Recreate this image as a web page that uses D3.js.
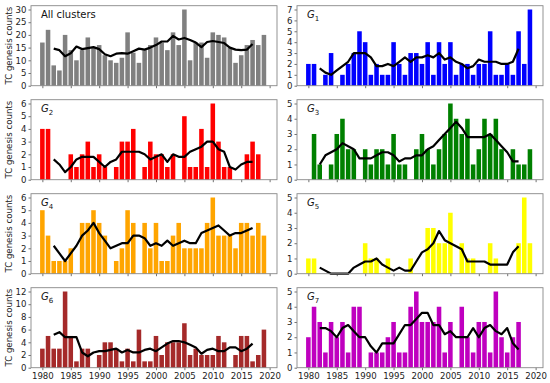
<!DOCTYPE html>
<html>
<head>
<meta charset="utf-8">
<script src="https://cdn.jsdelivr.net/npm/d3@7"></script>
<style>
  body { margin: 0; background: #fff; }
  text { font-family: "DejaVu Sans", sans-serif; }
</style>
</head>
<body>
<div id="chart"></div>
<script>
// years of the bars and of the 5-year running mean
const years = [1980,1981,1982,1983,1984,1985,1986,1987,1988,1989,1990,1991,1992,1993,1994,1995,1996,1997,1998,1999,
  2000,2001,2002,2003,2004,2005,2006,2007,2008,2009,2010,2011,2012,2013,2014,2015,2016,2017,2018,2019];
const meanYears = [1982,1983,1984,1985,1986,1987,1988,1989,1990,1991,1992,1993,1994,1995,1996,1997,1998,1999,
  2000,2001,2002,2003,2004,2005,2006,2007,2008,2009,2010,2011,2012,2013,2014,2015,2016,2017];
const xTicks = [1980, 1985, 1990, 1995, 2000, 2005, 2010, 2015, 2020];

// yearly TC genesis counts
const allCounts = [17,22,8,6,20,14,10,14,19,15,16,12,10,9,11,21,13,9,14,16,19,17,14,21,16,30,10,17,17,11,21,20,19,15,9,12,16,18,16,20];
const g1Counts = [2,2,0,1,3,0,1,2,3,5,4,1,2,1,1,4,2,1,3,3,2,4,1,4,2,4,1,2,2,1,2,2,5,1,1,2,1,5,2,7];
const g2Counts = [4,4,0,0,0,2,1,2,3,1,2,1,0,1,3,3,4,0,1,3,2,2,1,2,0,5,1,1,4,1,6,3,1,1,0,0,2,3,2,0];
const g3Counts = [0,3,1,0,1,3,4,2,2,0,2,1,2,2,1,3,1,1,0,2,3,2,1,2,3,5,4,3,4,1,2,4,3,4,2,0,2,1,1,2];
const g4Counts = [5,3,1,1,1,2,0,4,4,5,4,3,0,1,2,5,4,0,4,2,4,1,1,3,4,2,2,2,2,4,6,3,3,3,2,4,4,3,4,3];
const g5Counts = [1,1,0,0,0,0,0,0,0,0,2,1,1,0,1,0,0,0,1,0,0,3,3,2,2,4,0,2,1,1,0,0,2,1,0,0,0,2,5,2];
const g6Counts = [3,5,3,3,12,5,1,3,3,0,2,4,4,3,1,3,1,6,1,1,5,2,4,4,4,7,2,3,2,2,2,5,4,0,2,5,5,1,2,6];
const g7Counts = [2,4,3,1,3,2,3,1,4,4,0,1,1,1,2,3,1,1,4,5,3,3,3,4,1,3,0,4,2,1,3,3,1,5,2,1,2,3,0,0];

// running mean lines
const allMean = [14.6,14.0,11.6,12.8,15.4,14.4,14.8,15.2,14.4,12.4,11.6,12.6,12.8,12.6,13.6,14.6,14.2,15.0,16.0,17.4,17.4,19.6,18.2,18.8,18.0,17.0,15.2,17.2,17.6,17.2,16.8,15.0,14.2,14.0,14.2,16.4];
const g1Mean = [1.6,1.2,1.0,1.4,1.8,2.2,3.0,3.0,3.0,2.6,1.8,1.8,2.0,1.8,2.2,2.6,2.2,2.6,2.6,2.8,2.6,3.0,2.4,2.6,2.2,2.0,1.6,1.8,2.4,2.2,2.2,2.2,2.0,2.0,2.2,3.4];
const g2Mean = [1.6,1.2,0.6,1.0,1.6,1.8,1.8,1.8,1.4,1.0,1.4,1.6,2.2,2.2,2.2,2.2,2.0,1.6,1.8,2.0,1.4,2.0,1.8,1.8,2.2,2.4,2.6,3.0,3.0,2.4,2.2,1.0,0.8,1.2,1.4,1.4];
const g3Mean = [1.0,1.6,1.8,2.0,2.4,2.2,2.0,1.4,1.4,1.4,1.6,1.8,1.8,1.6,1.2,1.4,1.4,1.6,1.6,2.0,2.2,2.6,3.0,3.4,3.8,3.4,2.8,2.8,2.8,2.8,3.0,2.6,2.2,1.8,1.2,1.2];
const g4Mean = [2.2,1.6,1.0,1.6,2.2,3.0,3.4,4.0,3.2,2.6,2.0,2.2,2.4,2.4,3.0,3.0,2.8,2.2,2.4,2.2,2.6,2.2,2.4,2.6,2.4,2.4,3.2,3.4,3.6,3.8,3.4,3.0,3.2,3.2,3.4,3.6];
const g5Mean = [0.4,0.2,0,0,0,0,0.4,0.6,0.8,0.8,1.0,0.6,0.4,0.2,0.4,0.2,0.2,0.8,1.4,1.6,2.0,2.8,2.2,2.0,1.8,1.6,0.8,0.8,0.8,0.8,0.6,0.6,0.6,0.6,1.4,1.8];
const g6Mean = [5.2,5.6,4.8,4.8,4.8,2.4,1.8,2.4,2.6,2.6,2.8,3.0,2.4,2.8,2.4,2.4,2.8,3.0,2.6,3.2,3.8,4.2,4.2,4.0,3.6,3.2,2.2,2.8,3.0,2.6,2.6,3.2,3.2,2.6,3.0,3.8];
const g7Mean = [2.6,2.6,2.4,2.0,2.6,2.8,2.4,2.0,2.0,1.4,1.0,1.6,1.6,1.6,2.2,2.8,2.8,3.2,3.6,3.6,2.8,2.8,2.2,2.4,2.0,2.0,2.0,2.6,2.0,2.6,2.8,2.4,2.2,2.6,1.6,1.2];

// y tick values per panel
const allTicks = [0, 5, 10, 15, 20, 25, 30];
const g6Ticks = [0, 2, 4, 6, 8, 10, 12];

const panels = [
  { label: "All clusters", sub: null, counts: allCounts, mean: allMean, color: "#808080", ticks: allTicks },
  { label: "G", sub: "1", counts: g1Counts, mean: g1Mean, color: "#0000ff", ticks: [0,1,2,3,4,5,6,7] },
  { label: "G", sub: "2", counts: g2Counts, mean: g2Mean, color: "#ff0000", ticks: [0,1,2,3,4,5,6] },
  { label: "G", sub: "3", counts: g3Counts, mean: g3Mean, color: "#008000", ticks: [0,1,2,3,4,5] },
  { label: "G", sub: "4", counts: g4Counts, mean: g4Mean, color: "#ffa500", ticks: [0,1,2,3,4,5,6] },
  { label: "G", sub: "5", counts: g5Counts, mean: g5Mean, color: "#ffff00", ticks: [0,1,2,3,4,5] },
  { label: "G", sub: "6", counts: g6Counts, mean: g6Mean, color: "#a52a2a", ticks: g6Ticks },
  { label: "G", sub: "7", counts: g7Counts, mean: g7Mean, color: "#bf00bf", ticks: [0,1,2,3,4,5] }
];

const W = 550, H = 383;
const COL_X = [31, 297];
const PANEL_W = 246, PANEL_H = 80;
const ROW_Y = [5.7, 99.7, 193.7, 287.7];

const svg = d3.select("#chart").append("svg")
  .attr("width", W).attr("height", H);

panels.forEach((p, i) => {
  const col = i % 2, row = Math.floor(i / 2);
  const g = svg.append("g")
    .attr("transform", `translate(${COL_X[col]}, ${ROW_Y[row]})`);

  const x = d3.scaleLinear().domain([1978, 2021.3]).range([0, PANEL_W]);
  const yMax = d3.max(p.counts) * 1.05;
  const y = d3.scaleLinear().domain([0, yMax]).range([PANEL_H, 0]);
  const bw = x(1980.8) - x(1980);

  // bars
  g.selectAll("rect.bar")
    .data(p.counts.map((c, k) => ({ year: years[k], c })))
    .enter().append("rect")
    .attr("class", "bar")
    .attr("x", d => x(d.year) - bw / 2)
    .attr("y", d => y(d.c))
    .attr("width", bw)
    .attr("height", d => PANEL_H - y(d.c))
    .attr("fill", p.color);

  // running mean
  const line = d3.line().x(d => x(d.year)).y(d => y(d.v));
  g.append("path")
    .datum(p.mean.map((v, k) => ({ year: meanYears[k], v })))
    .attr("d", line)
    .attr("fill", "none")
    .attr("stroke", "#000")
    .attr("stroke-width", 2.2)
    .attr("stroke-linejoin", "round");

  // axes
  const yAxis = g.append("g").call(d3.axisLeft(y).tickValues(p.ticks).tickFormat(d3.format("d"))
    .tickSize(2.5).tickPadding(2));
  const xAxis = g.append("g").attr("transform", `translate(0, ${PANEL_H})`)
    .call(d3.axisBottom(x).tickValues(xTicks).tickFormat(d3.format("d")).tickSize(2.5).tickPadding(2.5));
  if (row < 3) xAxis.selectAll("text").remove();
  [yAxis, xAxis].forEach(a => {
    a.select(".domain").remove();
    a.selectAll("line").attr("stroke", "#333").attr("stroke-width", 0.7);
    a.selectAll("text").attr("fill", "#222").style("font-size", "8.6px")
      .style("font-family", "'DejaVu Sans', sans-serif");
  });

  // frame
  g.append("rect")
    .attr("width", PANEL_W).attr("height", PANEL_H)
    .attr("fill", "none").attr("stroke", "#888").attr("stroke-width", 0.9);

  // panel label
  const t = g.append("text").attr("x", 10).attr("y", 12.5)
    .style("font-size", "10px").attr("fill", "#111");
  if (p.sub) {
    t.append("tspan").style("font-style", "italic").text(p.label);
    t.append("tspan").attr("dy", 2.5).style("font-size", "7px").text(p.sub);
  } else {
    t.text(p.label);
  }

  // y label on left column
  if (col === 0) {
    svg.append("text")
      .attr("transform", `translate(12, ${ROW_Y[row] + PANEL_H / 2}) rotate(-90)`)
      .attr("text-anchor", "middle")
      .style("font-size", "8.6px").attr("fill", "#222")
      .text("TC genesis counts");
  }
});
</script>
</body>
</html>
